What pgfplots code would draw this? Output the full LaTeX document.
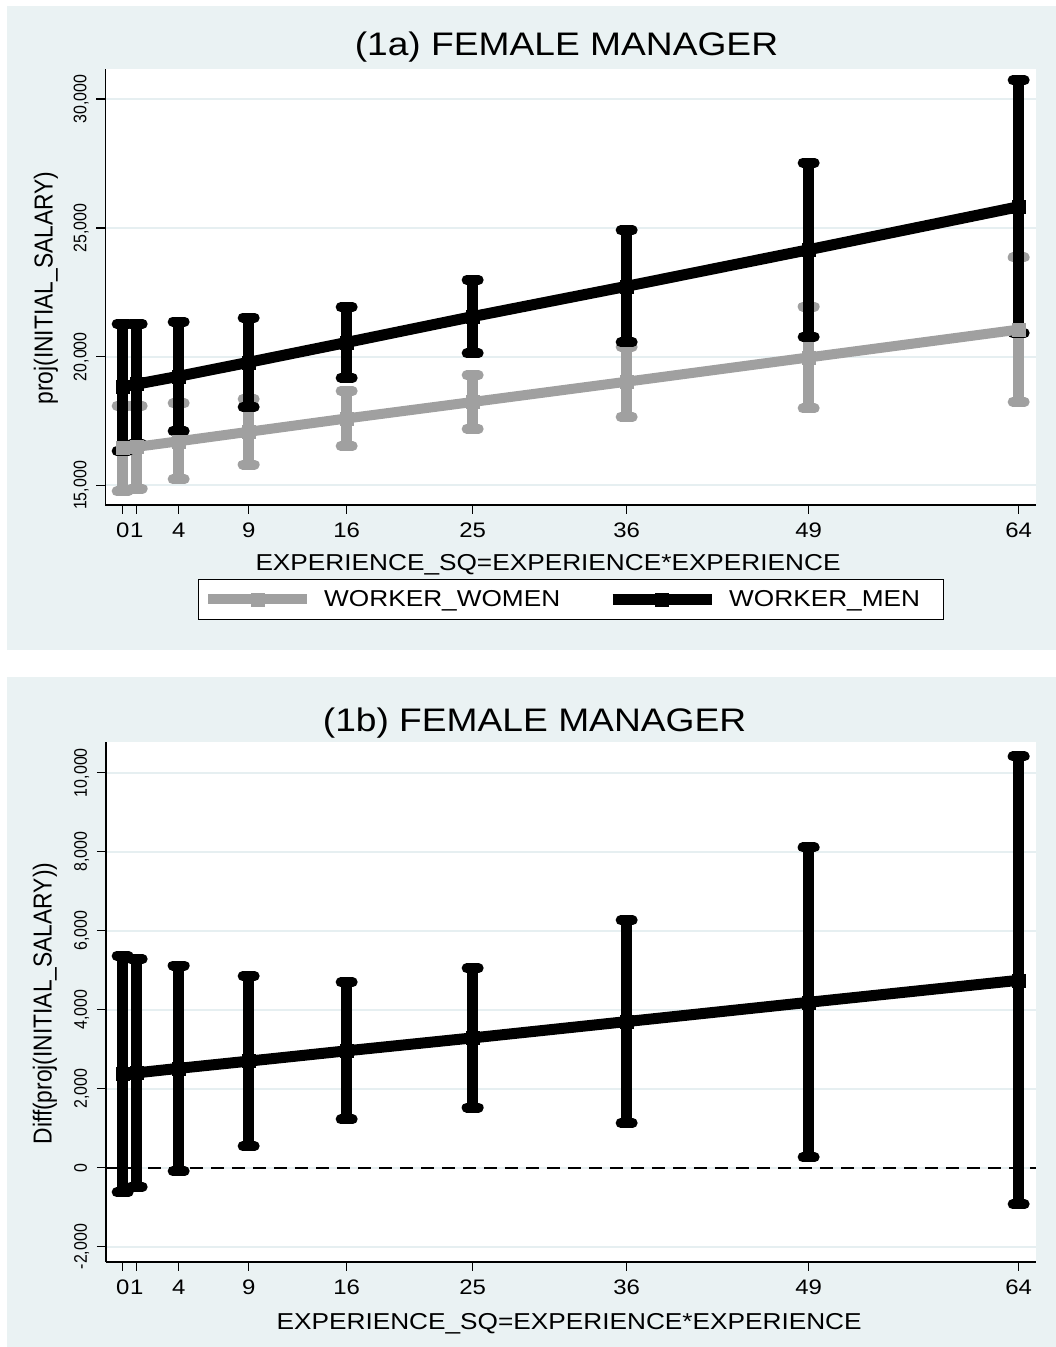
\documentclass[border=0pt]{standalone}
\usepackage{fontspec}
\setmainfont{Liberation Sans}[FakeStretch=1.14]
\newfontfamily\rotfont{Liberation Sans}[FakeStretch=0.877]
\usepackage{pgfplots}
\usepackage{pgfplotstable}
\pgfplotsset{compat=1.18}
\definecolor{stbg}{RGB}{234,242,243}
\definecolor{stgrid}{RGB}{230,239,241}
\definecolor{stgray}{RGB}{160,160,160}

% x = EXPERIENCE_SQ, y = estimate, lo/hi = confidence interval
\pgfplotstableread{
x  y     lo    hi
0  16450 14776 18094
1  16500 14880 18094
4  16715 15243 18187
9  17084 15814 18354
16 17601 16533 18669
25 18241 17205 19278
36 19028 17666 20389
49 19969 17993 21945
64 21050 18250 23851
}\women
\pgfplotstableread{
x  y     lo    hi
0  18824 16339 21269
1  18933 16594 21272
4  19238 17116 21359
9  19780 18047 21514
16 20551 19185 21918
25 21555 20132 22977
36 22730 20560 24901
49 24150 20778 27523
64 25818 20910 30725
}\men
\pgfplotstableread{
x  y    lo   hi
0  2369 -622 5360
1  2400 -480 5281
4  2514 -89  5117
9  2697 546  4848
16 2958 1223 4693
25 3285 1523 5048
36 3698 1134 6261
49 4186 266  8106
64 4743 -924 10411
}\diff

\pgfplotsset{
  stata/.style={
    scale only axis,
    scaled y ticks=false,
    axis x line*=bottom, axis y line*=left,
    axis line style={line width=1.5pt, -},
    tick align=outside,
    major tick length=9pt,
    every tick/.style={line width=1.5pt, black},
    xtick={0,1,4,9,16,25,36,49,64},
    xticklabels={0,1,4,9,16,25,36,49,64},
    ymajorgrids,
    grid style={stgrid, line width=2pt},
    axis background/.style={fill=white},
    xticklabel style={font=\fontsize{21}{24}\selectfont, inner sep=0pt, anchor=north},
    xticklabel shift=9pt,
    yticklabel style={font=\rotfont\fontsize{18.2}{20}\selectfont, rotate=90, anchor=base, inner sep=0pt},
    yticklabel shift=10pt,
    title style={font=\fontsize{32.6}{36}\selectfont, anchor=center, yshift=-10pt},
    xlabel style={font=\fontsize{23}{26}\selectfont, anchor=center},
    ylabel style={font=\rotfont\fontsize{26}{30}\selectfont, anchor=center},
  },
  cibar/.style={forget plot, #1, only marks, mark=none,
    error bars/.cd, y dir=both, y explicit,
    error bar style={line width=11pt, #1},
    error mark options={#1, rotate=90, line width=10pt, line cap=round, mark size=6pt}},
}

\begin{document}
\begin{tikzpicture}[x=1pt,y=1pt]
\path[use as bounding box, fill=white] (0,0) rectangle (1056,1347);
\fill[stbg] (7,697) rectangle (1056,1341);
\fill[stbg] (7,0) rectangle (1056,670);

% ---------- (1a) ----------
\begin{axis}[stata,
  at={(105.3pt,842pt)}, anchor=south west,
  width=930.7pt, height=436.3pt,
  xmin=-1.24, xmax=65.24, ymin=14243, ymax=31176,
  ytick={15000,20000,25000,30000},
  yticklabels={{15,000},{20,000},{25,000},{30,000}},
  title={(1a) FEMALE MANAGER},
  title style={at={(axis description cs:0.4955,1.059)}},
  xlabel={EXPERIENCE\_SQ=EXPERIENCE*EXPERIENCE},
  xlabel style={at={(axis description cs:0.4757,-0.138)}},
  ylabel={proj(INITIAL\_SALARY)},
  ylabel style={at={(axis description cs:-0.0637,0.497)}},
  legend columns=2,
  legend style={at={(axis description cs:0.5,-0.1696)}, anchor=north,
    draw=black, line width=1pt, fill=white,
    font=\fontsize{23}{26}\selectfont,
    inner xsep=5pt, inner ysep=11pt,
    nodes={inner sep=0pt},
    /tikz/every odd column/.append style={column sep=12pt},
    /tikz/every even column/.append style={column sep=47pt}},
  legend cell align=left,
  legend image code/.code={\draw[#1, mark repeat=2, mark phase=2] plot coordinates {(0pt,0pt) (49.5pt,0pt) (99pt,0pt)};},
]
\addplot[cibar=stgray] table[x=x, y=y, y error plus expr=\thisrow{hi}-\thisrow{y}, y error minus expr=\thisrow{y}-\thisrow{lo}] {\women};
\addplot[cibar=black] table[x=x, y=y, y error plus expr=\thisrow{hi}-\thisrow{y}, y error minus expr=\thisrow{y}-\thisrow{lo}] {\men};
\addplot[stgray, line width=10pt, mark=square*, mark size=6.5pt, mark options={line width=0.5pt}] table[x=x, y=y] {\women};
\addlegendentry{WORKER\_WOMEN}
\addplot[black, line width=11pt, mark=square*, mark size=6.5pt, mark options={line width=0.5pt}] table[x=x, y=y] {\men};
\addlegendentry{WORKER\_MEN\hspace*{18pt}}
\end{axis}

% ---------- (1b) ----------
\begin{axis}[stata,
  at={(106pt,85pt)}, anchor=south west,
  width=930pt, height=520pt,
  xmin=-1.19, xmax=65.24, ymin=-2388, ymax=10776,
  ytick={-2000,0,2000,4000,6000,8000,10000},
  yticklabels={{-2,000},{0},{2,000},{4,000},{6,000},{8,000},{10,000}},
  title={(1b) FEMALE MANAGER},
  title style={at={(axis description cs:0.4608,1.044)}},
  xlabel={EXPERIENCE\_SQ=EXPERIENCE*EXPERIENCE},
  xlabel style={at={(axis description cs:0.498,-0.118)}},
  ylabel={Diff(proj(INITIAL\_SALARY))},
  ylabel style={at={(axis description cs:-0.0656,0.497)}},
]
\addplot[forget plot, black, line width=2pt, dash pattern=on 13pt off 8pt] coordinates {(-1.19,0) (65.24,0)};
\addplot[cibar=black] table[x=x, y=y, y error plus expr=\thisrow{hi}-\thisrow{y}, y error minus expr=\thisrow{y}-\thisrow{lo}] {\diff};
\addplot[black, line width=11pt, mark=square*, mark size=6.5pt, mark options={line width=0.5pt}] table[x=x, y=y] {\diff};
\end{axis}
\end{tikzpicture}
\end{document}
